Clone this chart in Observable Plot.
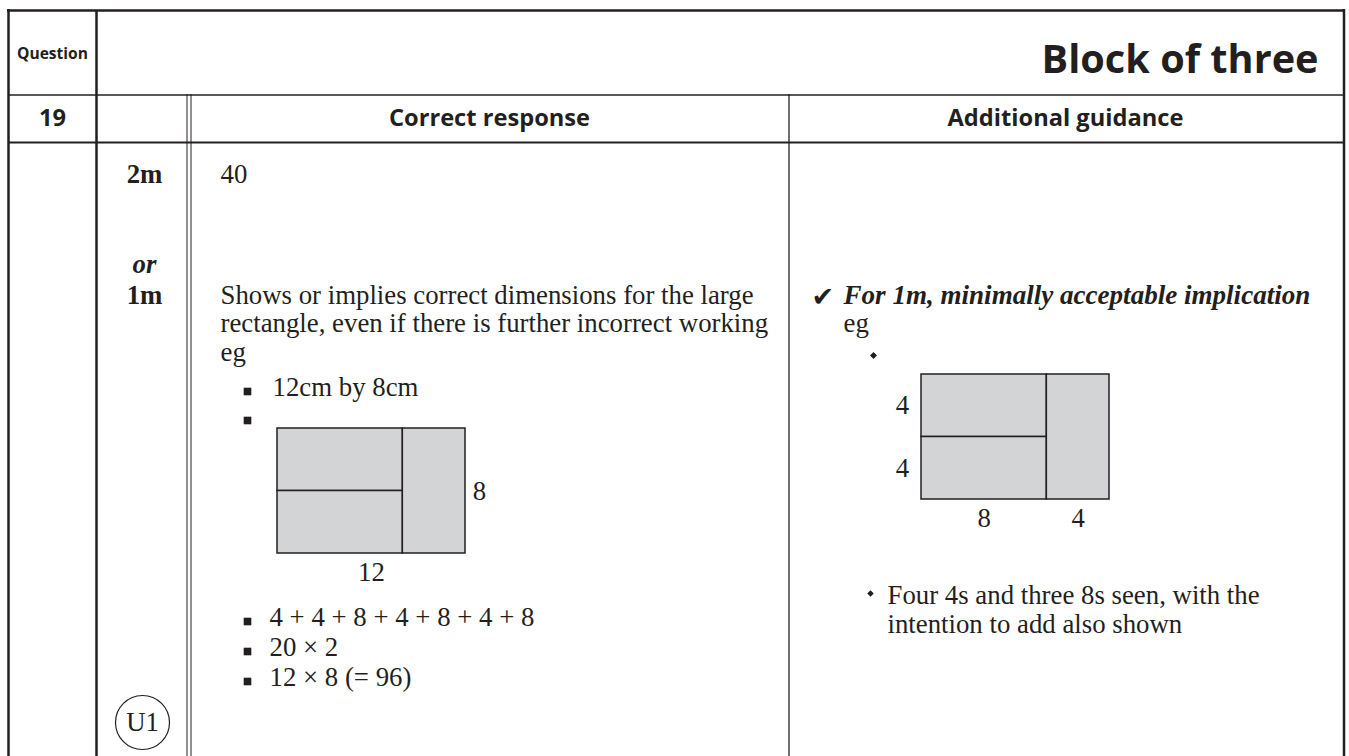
<!DOCTYPE html>
<html><head><meta charset="utf-8">
<script src="https://cdn.jsdelivr.net/npm/d3@7"></script>
<script src="https://cdn.jsdelivr.net/npm/@observablehq/plot@0.6"></script>
<style>
body{margin:0;background:#fff;}
#page{position:relative;width:1349px;height:756px;overflow:hidden;background:#fff;}
</style></head><body><div id="page"></div>
<script>
// ---- content ----
const title = "Block of three";
const questionLabel = "Question";
const questionNumber = "19";
const columnHeaders = ["Correct response", "Additional guidance"];
const markLabels = ["2m", "or", "1m"];
const codeLabel = "U1";
const fullAnswer = "40";
const responseLines = ["Shows or implies correct dimensions for the large", "rectangle, even if there is further incorrect working", "eg"];
const responseBulletsA = ["12cm by 8cm", ""];
const responseBulletsB = ["4 + 4 + 8 + 4 + 8 + 4 + 8", "20 × 2", "12 × 8 (= 96)"];
const checkSymbol = "✔";
const guidanceHeading = "For 1m, minimally acceptable implication";
const guidanceEg = "eg";
const guidanceBullet = ["Four 4s and three 8s seen, with the", "intention to add also shown"];
// block of three pieces, in cm
const blockPieces = [
  {x1: 0, x2: 8, y1: 0, y2: 4},
  {x1: 0, x2: 8, y1: 4, y2: 8},
  {x1: 8, x2: 12, y1: 0, y2: 8}
];
const blockWidth = 12, blockHeight = 8;
// dimension labels
const leftWidthLabels = [{value: 12, from: 0}];
const leftHeightLabels = [{value: 8, from: 0}];
const rightWidthLabels = [{value: 8, from: 0}, {value: 4, from: 8}];
const rightHeightLabels = [{value: 4, from: 0}, {value: 4, from: 4}];

// ---- styles / fonts ----
const ink = "#231f20";
const serif = "'Liberation Serif', 'DejaVu Serif', serif";
const sans = "'Open Sans', 'Noto Sans', 'DejaVu Sans', sans-serif";
const ctx = document.createElement("canvas").getContext("2d");
function fit(text, style, family, target) {
  ctx.font = `${style} 100px ${family}`;
  return 100 * target / ctx.measureText(text).width;
}
const bodySize = fit(responseLines[1], "normal", serif, 548);
const italicSize = fit(guidanceHeading, "italic bold", serif, 467);
const titleSize = fit(title, "bold", sans, 277);
const headSize = fit(columnHeaders[1], "bold", sans, 236);
const qSize = fit(questionLabel, "bold", sans, 71);

const page = document.getElementById("page");
const lh = 28.5;

const T = (data, o) => Plot.text(data, {text: d => d, fill: ink, textAnchor: "start", lineAnchor: "bottom", fontFamily: serif, fontSize: bodySize, ...o});

const main = Plot.plot({
  width: 1349, height: 756, margin: 0,
  x: {domain: [0, 1349], range: [0, 1349], axis: null},
  y: {domain: [0, 756], range: [0, 756], axis: null},
  style: {background: "white", position: "absolute", left: "0px", top: "0px"},
  marks: [
    // frame
    Plot.ruleY([10], {x1: 7, x2: 1344.5, stroke: ink, strokeWidth: 2.5}),
    Plot.ruleX([8], {y1: 9, y2: 756, stroke: ink, strokeWidth: 2.5}),
    Plot.ruleX([1343.5], {y1: 9, y2: 756, stroke: ink, strokeWidth: 2.5}),
    Plot.ruleX([96], {y1: 10, y2: 756, stroke: ink, strokeWidth: 2.5}),
    Plot.ruleY([94.5], {x1: 8, x2: 1343, stroke: ink, strokeWidth: 1.5}),
    Plot.ruleY([142], {x1: 8, x2: 1343, stroke: ink, strokeWidth: 2}),
    Plot.ruleX([186.5, 190.5], {y1: 94, y2: 756, stroke: ink, strokeWidth: 1}),
    Plot.ruleX([788.5], {y1: 94, y2: 756, stroke: ink, strokeWidth: 1.3}),
    // headers
    Plot.text([questionLabel], {text: d => d, x: () => 52, y: () => 53, lineAnchor: "middle", fill: ink, fontFamily: sans, fontWeight: "bold", fontSize: qSize}),
    Plot.text([title], {text: d => d, x: () => 1318, y: () => 72, textAnchor: "end", lineAnchor: "bottom", fill: ink, fontFamily: sans, fontWeight: "bold", fontSize: titleSize}),
    Plot.text([questionNumber], {text: d => d, x: () => 52, y: () => 118, lineAnchor: "middle", fill: ink, fontFamily: sans, fontWeight: "bold", fontSize: headSize}),
    Plot.text(columnHeaders, {text: d => d, x: (d, i) => [489, 1065][i], y: () => 118, lineAnchor: "middle", fill: ink, fontFamily: sans, fontWeight: "bold", fontSize: headSize}),
    // marks column
    T(markLabels, {filter: (d, i) => i !== 1, x: () => 144, y: (d, i) => [182, 272, 303][i], textAnchor: "middle", fontWeight: "bold"}),
    T(markLabels, {filter: (d, i) => i === 1, x: () => 144, y: (d, i) => [182, 272, 303][i], textAnchor: "middle", fontWeight: "bold", fontStyle: "italic"}),
    Plot.dot([codeLabel], {x: () => 142, y: () => 722, r: 27, stroke: ink, strokeWidth: 1.2, fill: "none"}),
    T([codeLabel], {x: () => 142, y: () => 722, textAnchor: "middle", lineAnchor: "middle"}),
    // correct response
    T([fullAnswer], {x: () => 220, y: () => 182}),
    T(responseLines, {x: () => 220, y: (d, i) => 303 + i * lh}),
    Plot.dot(responseBulletsA, {x: () => 247, y: (d, i) => 391 + i * 29, symbol: "square", r: 4.3, fill: ink}),
    T(responseBulletsA, {x: () => 272, y: (d, i) => 395 + i * 29}),
    Plot.dot(responseBulletsB, {x: () => 247, y: (d, i) => 621 + i * 30, symbol: "square", r: 4.3, fill: ink}),
    T(responseBulletsB, {x: () => 269, y: (d, i) => 625 + i * 30}),
    // guidance
    Plot.text([checkSymbol], {text: d => d, x: () => 811, y: () => 305, textAnchor: "start", lineAnchor: "bottom", fill: ink, fontFamily: "'DejaVu Sans', sans-serif", fontSize: 27}),
    T([guidanceHeading], {x: () => 843, y: () => 303, fontWeight: "bold", fontStyle: "italic", fontSize: italicSize}),
    T([guidanceEg], {x: () => 843, y: () => 331}),
    Plot.dot(["diamond"], {x: () => 873, y: () => 355, symbol: "square", r: 2.8, rotate: 45, fill: ink}),
    Plot.dot(["diamond"], {x: () => 870, y: () => 593, symbol: "square", r: 2.6, rotate: 45, fill: ink}),
    T(guidanceBullet, {x: () => 887, y: (d, i) => 603 + i * 29})
  ]
});
page.appendChild(main);

function blockDiagram(left, top, widthLabels, heightLabels, heightSide) {
  const w = 188, h = 125, mL = 45, mR = 45, mT = 6, mB = 40;
  const svg = Plot.plot({
    width: w + mL + mR, height: h + mT + mB,
    marginLeft: mL, marginRight: mR, marginTop: mT, marginBottom: mB,
    x: {domain: [0, blockWidth], axis: null},
    y: {domain: [0, blockHeight], reverse: true, axis: null},
    style: {background: "transparent", position: "absolute", left: (left - mL) + "px", top: (top - mT) + "px", overflow: "visible"},
    marks: [
      Plot.rect(blockPieces, {x1: "x1", x2: "x2", y1: "y1", y2: "y2", fill: "#d3d4d6", stroke: ink, strokeWidth: 1.5}),
      Plot.text(widthLabels, {x: d => d.from + d.value / 2, y: () => blockHeight, text: d => String(d.value), dy: 19, lineAnchor: "middle", fill: ink, fontFamily: serif, fontSize: bodySize}),
      Plot.text(heightLabels, {x: () => heightSide === "right" ? blockWidth : 0, y: d => d.from + d.value / 2, text: d => String(d.value), dx: heightSide === "right" ? 14 : -19, lineAnchor: "middle", fill: ink, fontFamily: serif, fontSize: bodySize})
    ]
  });
  page.appendChild(svg);
}
blockDiagram(277, 428, leftWidthLabels, leftHeightLabels, "right");
blockDiagram(921, 374, rightWidthLabels, rightHeightLabels, "left");
</script></body></html>
